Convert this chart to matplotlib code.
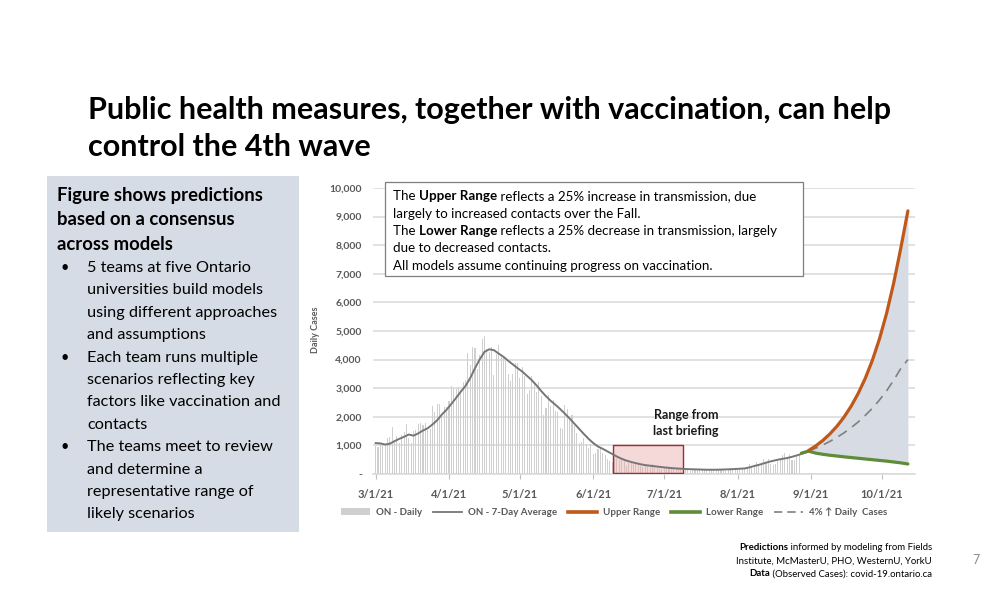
import numpy as np
import pandas as pd
import matplotlib
matplotlib.use('Agg')
import matplotlib.pyplot as plt
import matplotlib.dates as mdates
from matplotlib.patches import Rectangle, Patch
from matplotlib.lines import Line2D
from matplotlib.text import Annotation

plt.rcParams['font.family'] = ['Lato', 'DejaVu Sans']

# ON - daily reported cases (Mar 1 - Aug 27, 2021)
march = [966, 958, 1023, 994, 990, 1250, 1299, 1631, 1185, 1316, 1092, 1371, 1468, 1747, 1268, 1074,
         1508, 1553, 1745, 1791, 1699, 1791, 1546, 1571, 2380, 2169, 2453, 2448, 2094, 2336, 2333]
april = [2557, 3089, 3009, 2958, 3041, 2938, 3215, 3295, 4227, 3813, 4456, 4401, 3670, 4156, 4736,
         4812, 4362, 4250, 4447, 3469, 4212, 4505, 4107, 4094, 3947, 3510, 3265, 3480, 3871, 3887]
may = [3369, 3732, 3436, 2791, 2941, 3424, 3166, 2864, 3216, 2716, 2073, 2320, 2759, 2362, 2584, 2199,
       2170, 1616, 1588, 2400, 2290, 1890, 2063, 1691, 1446, 1095, 1135, 1273, 1057, 916, 1033]
june = [699, 733, 870, 914, 744, 663, 525, 469, 411, 590, 574, 502, 530, 447, 296, 384, 370, 355, 345,
        318, 270, 255, 296, 299, 256, 346, 287, 200, 184, 184]
july = [200, 284, 209, 187, 170, 164, 194, 210, 179, 166, 146, 114, 153, 146, 143, 159, 176, 162, 130,
        135, 151, 166, 192, 170, 172, 129, 120, 155, 218, 185, 201]
august = [178, 167, 164, 186, 213, 340, 195, 260, 423, 321, 324, 513, 378, 519, 340, 325, 348, 485,
          511, 650, 727, 551, 694, 486, 485, 678, 660]
daily = march + april + may + june + july + august

# ON - 7-day average, every 2 days from Mar 1
avg7 = [1080, 1070, 1030, 1060, 1150, 1230, 1300, 1380, 1340, 1420, 1520, 1600, 1730, 1880, 2080,
        2250, 2450, 2660, 2880, 3080, 3360, 3700, 4010, 4270, 4360, 4330, 4210, 4100, 3960, 3830,
        3700, 3580, 3430, 3280, 3100, 2900, 2720, 2560, 2420, 2270, 2110, 1940, 1760, 1580, 1400,
        1230, 1080, 960, 880, 790, 700, 610, 530, 470, 420, 380, 340, 310, 290, 270, 250, 230, 215,
        200, 190, 180, 170, 165, 160, 155, 150, 150, 150, 155, 160, 165, 175, 185, 195, 230, 280,
        320, 370, 420, 460, 500, 530, 560, 600, 650, 700, 760]

# projections, every 3 days from Aug 31
upper = [820, 980, 1170, 1400, 1670, 1990, 2370, 2820, 3350, 3980, 4730, 5620, 6680, 7900, 9200]
pct4 = [800, 900, 1010, 1140, 1280, 1440, 1620, 1820, 2050, 2300, 2590, 2910, 3280, 3690, 4000]
# lower range, every 3 days from Aug 28
lower = [730, 800, 730, 690, 655, 630, 600, 575, 550, 525, 500, 475, 450, 420, 390, 350]

month_ticks = ['2021-03-01', '2021-04-01', '2021-05-01', '2021-06-01', '2021-07-01',
               '2021-08-01', '2021-09-01', '2021-10-01']
month_labels = ['3/1/21', '4/1/21', '5/1/21', '6/1/21', '7/1/21', '8/1/21', '9/1/21', '10/1/21']

daily_dates = pd.date_range('2021-03-01', periods=len(daily))
avg_dates = pd.date_range('2021-03-01', periods=len(avg7), freq='2D')
proj_dates = pd.date_range('2021-08-31', periods=len(upper), freq='3D')
lower_dates = pd.date_range('2021-08-28', periods=len(lower), freq='3D')

W, H = 1008, 612
fig = plt.figure(figsize=(W / 100, H / 100), dpi=100)


def fx(x):
    return x / W


def fy(y):
    return 1 - y / H


grey_txt = '#595959'

# title
fig.text(fx(88), fy(110), 'Public health measures, together with vaccination, can help',
         fontsize=22, fontweight='bold', va='center', ha='left', color='black')
fig.text(fx(88), fy(147), 'control the 4th wave',
         fontsize=22, fontweight='bold', va='center', ha='left', color='black')

# left panel
fig.patches.append(Rectangle((fx(47), fy(532)), fx(299 - 47), (532 - 176) / H,
                             transform=fig.transFigure, facecolor='#D6DCE5', edgecolor='none'))
for i, line in enumerate(['Figure shows predictions', 'based on a consensus', 'across models']):
    fig.text(fx(57), fy(195 + i * 24.5), line, fontsize=13.3, fontweight='bold', va='center')
bullets = [
    ['5 teams at five Ontario', 'universities build models', 'using different approaches',
     'and assumptions'],
    ['Each team runs multiple', 'scenarios reflecting key', 'factors like vaccination and',
     'contacts'],
    ['The teams meet to review', 'and determine a', 'representative range of', 'likely scenarios'],
]
row = 0
for b in bullets:
    fig.text(fx(61), fy(268 + row * 22.4), '•', fontsize=10.5, va='center')
    for line in b:
        fig.text(fx(87), fy(268 + row * 22.4), line, fontsize=11.7, va='center')
        row += 1

# chart
ax = fig.add_axes([fx(373), fy(474), fx(915 - 373), (474 - 188) / H])
ax.bar(daily_dates, daily, width=0.45, color='#CFCFCF', zorder=2)
ax.plot(avg_dates, avg7, color='#767676', lw=1.4, zorder=4)
ax.fill_between(proj_dates, lower[1:], upper, color='#D6DBE4', lw=0, zorder=1)
ax.plot(proj_dates, pct4, color='#808080', lw=1.2, ls=(0, (6, 4)), zorder=4)
ax.plot(lower_dates, lower, color='#5E8C38', lw=2.3, zorder=5, solid_capstyle='round')
ax.plot(proj_dates, upper, color='#C0581A', lw=2.3, zorder=5, solid_capstyle='round')

x0 = mdates.date2num(pd.Timestamp('2021-06-09 12:00'))
x1 = mdates.date2num(pd.Timestamp('2021-07-09'))
ax.add_patch(Rectangle((x0, 30), x1 - x0, 1000, facecolor='#EBA9A9', alpha=0.45,
                       edgecolor='none', zorder=3))
ax.add_patch(Rectangle((x0, 30), x1 - x0, 1000, facecolor='none', edgecolor='#A8282D',
                       lw=1.0, zorder=3.5))

ax.set_ylim(0, 10000)
ax.set_xlim(pd.Timestamp('2021-02-27 21:00'), pd.Timestamp('2021-10-15'))
ax.set_yticks(np.arange(0, 10001, 1000))
ax.set_yticklabels(['-'] + [f'{v:,}' for v in range(1000, 10001, 1000)])
ax.set_xticks(pd.to_datetime(month_ticks))
ax.set_xticklabels(month_labels)
ax.grid(axis='y', color='#D9D9D9', lw=1.1, zorder=0)
ax.set_axisbelow(True)
for s in ['top', 'right', 'left']:
    ax.spines[s].set_visible(False)
ax.spines['bottom'].set_color('#D9D9D9')
ax.spines['bottom'].set_linewidth(1.1)
ax.tick_params(axis='y', length=0, pad=8, labelsize=7.5, labelcolor=grey_txt)
ax.tick_params(axis='x', length=3.5, color='#BFBFBF', pad=7, labelsize=8, labelcolor=grey_txt)
for lab in ax.get_xticklabels() + ax.get_yticklabels():
    lab.set_fontweight('bold')
fig.text(fx(316), fy(330), 'Daily Cases', rotation=90, fontsize=6.5, fontweight='bold',
         color=grey_txt, va='center', ha='center')

fig.text(fx(686), fy(423), 'Range from\nlast briefing', fontsize=9, fontweight='bold',
         ha='center', va='center', linespacing=1.4, color='#1a1a1a')

# info box
fig.patches.append(Rectangle((fx(385), fy(276)), fx(803 - 385), (276 - 182) / H,
                             transform=fig.transFigure, facecolor='white', edgecolor='#7F7F7F',
                             lw=0.9, zorder=6))
box_fs = 9.6
box_y = [196, 213.5, 231, 248.5, 266]


def run(x, y, parts):
    prev = None
    for txt, bold in parts:
        kw = dict(fontsize=box_fs, fontweight='bold' if bold else 'normal', color='black', zorder=7)
        if prev is None:
            prev = fig.text(fx(x), fy(y), txt, va='center', ha='left', **kw)
        else:
            a = Annotation(txt, xy=(1, 0), xycoords=prev, va='bottom', ha='left',
                           annotation_clip=False, **kw)
            fig.add_artist(a)
            prev = a
    return prev


run(393, box_y[0], [('The ', False), ('Upper Range', True),
                    (' reflects a 25% increase in transmission, due', False)])
run(393, box_y[1], [('largely to increased contacts over the Fall.', False)])
run(393, box_y[2], [('The ', False), ('Lower Range', True),
                    (' reflects a 25% decrease in transmission, largely', False)])
run(393, box_y[3], [('due to decreased contacts.', False)])
run(393, box_y[4], [('All models assume continuing progress on vaccination.', False)])

# legend
handles = [Patch(facecolor='#CFCFCF', edgecolor='none'),
           Line2D([], [], color='#767676', lw=1.3),
           Line2D([], [], color='#C0581A', lw=2.6),
           Line2D([], [], color='#5E8C38', lw=2.6),
           Line2D([], [], color='#808080', lw=1.2, ls=(0, (5, 3)))]
labels = ['ON - Daily', 'ON - 7-Day Average', 'Upper Range', 'Lower Range', '4% ↑ Daily  Cases']
leg = fig.legend(handles, labels, loc='center', bbox_to_anchor=(fx(614), fy(512)), ncol=5,
                 frameon=False, handlelength=3.0, handleheight=0.6, columnspacing=1.1,
                 handletextpad=0.6, prop={'size': 7, 'weight': 'bold'})
for t in leg.get_texts():
    t.set_color(grey_txt)

# footnote
foot_fs = 6.9
f1 = fig.text(fx(932), fy(548), ' informed by modeling from Fields', fontsize=foot_fs,
              ha='right', va='center')
fig.add_artist(Annotation('Predictions', xy=(0, 0), xycoords=f1, ha='right', va='bottom',
                          fontsize=foot_fs, fontweight='bold', annotation_clip=False))
fig.text(fx(932), fy(561), 'Institute, McMasterU, PHO, WesternU, YorkU', fontsize=foot_fs,
         ha='right', va='center')
f3 = fig.text(fx(932), fy(574), ' (Observed Cases): covid-19.ontario.ca', fontsize=foot_fs,
              ha='right', va='center')
fig.add_artist(Annotation('Data', xy=(0, 0), xycoords=f3, ha='right', va='bottom',
                          fontsize=foot_fs, fontweight='bold', annotation_clip=False))
fig.text(fx(976), fy(560), '7', fontsize=9, color='#8C8C8C', ha='center', va='center')

fig.savefig('out.png', dpi=100)
